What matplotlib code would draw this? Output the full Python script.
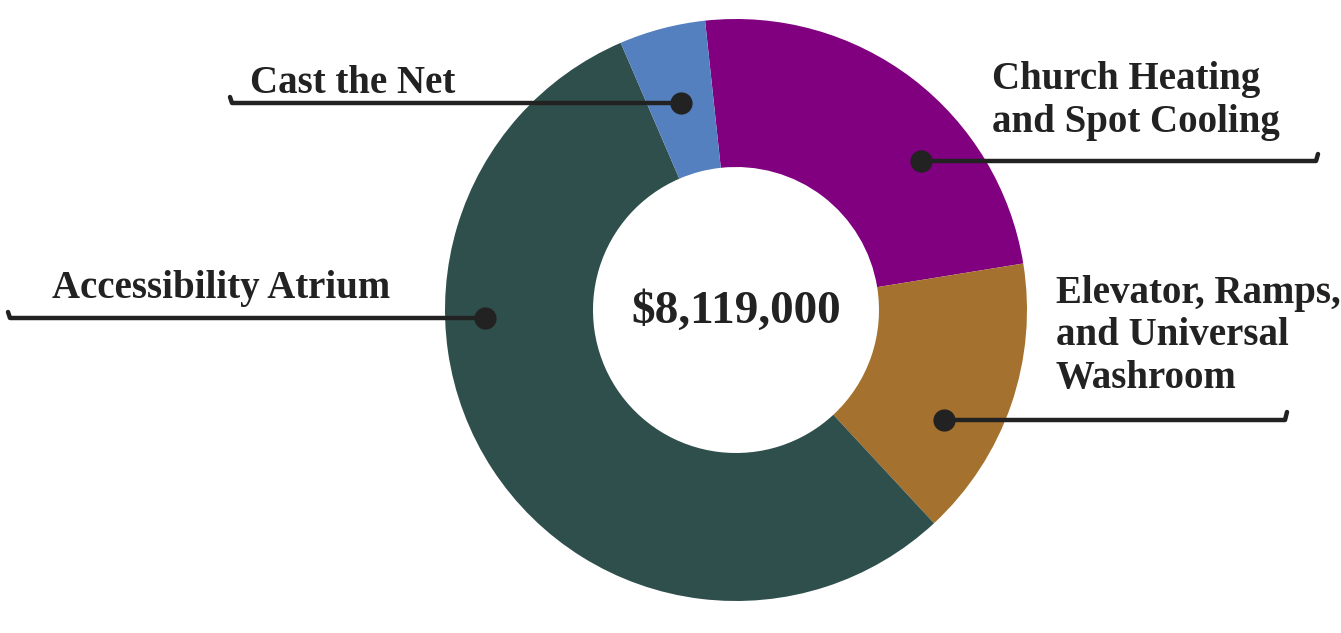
import matplotlib.pyplot as plt

# Project budget breakdown
categories = ['Church Heating\nand Spot Cooling',
              'Elevator, Ramps,\nand Universal\nWashroom',
              'Accessibility Atrium',
              'Cast the Net']
amounts = [1960000, 1270000, 4500000, 389000]
colors = ['#800080', '#A5712E', '#2F4F4C', '#5580BF']
total_label = '$8,119,000'

W, H = 1341, 633
fig = plt.figure(figsize=(W / 100, H / 100), dpi=100)
ax = fig.add_axes([0, 0, 1, 1])

cx, cy, r = 736, H - 310, 291
ax.pie(amounts, colors=colors, startangle=96.1, counterclock=False,
       center=(cx, cy), radius=r, frame=True,
       wedgeprops=dict(width=r - 143, linewidth=0))
ax.set_xlim(0, W)
ax.set_ylim(0, H)
ax.set_aspect('equal')
ax.axis('off')

font = dict(family=['Liberation Serif', 'DejaVu Serif'], weight='bold', color='#222222')
ax.text(cx, cy - 2, total_label, ha='center', va='center', fontsize=34, **font)

line_kw = dict(color='#222222', lw=3.2, solid_capstyle='round', solid_joinstyle='round')


def y(v):
    return H - v


# leader lines: (dot, line end, hook end)
leaders = [
    ((921, 161), (1316, 161), (1318, 154)),
    ((944, 420), (1285, 420), (1287, 412)),
    ((485, 318), (10, 318), (8, 312)),
    ((681, 103), (232, 103), (230, 97)),
]
for (dx, dy), (ex, ey), (hx, hy) in leaders:
    ax.plot([dx, ex, hx], [y(dy), y(ey), y(hy)], **line_kw)
    ax.plot(dx, y(dy), 'o', ms=15, color='#222222')

size = 28
ax.text(992, y(132), categories[0], ha='left', va='baseline', fontsize=size,
        linespacing=1.2, **font)
ax.text(1056, y(388), categories[1], ha='left', va='baseline', fontsize=size,
        linespacing=1.2, **font)
ax.text(52, y(298), categories[2], ha='left', va='baseline', fontsize=size, **font)
ax.text(250, y(93), categories[3], ha='left', va='baseline', fontsize=size, **font)

fig.savefig('out.png', dpi=100, facecolor='white')
